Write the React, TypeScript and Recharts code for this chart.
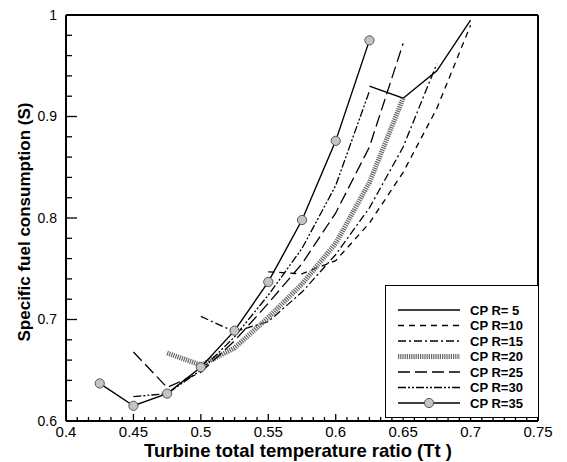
import React from "react";
import { LineChart, Line, XAxis, YAxis, ReferenceLine } from "recharts";

const xMajorTicks = [0.4, 0.45, 0.5, 0.55, 0.6, 0.65, 0.7, 0.75];
const xTickLabels = ["0.4", "0.45", "0.5", "0.55", "0.6", "0.65", "0.7", "0.75"];
const yMajorTicks = [0.6, 0.7, 0.8, 0.9, 1];
const yTickLabels = ["0.6", "0.7", "0.8", "0.9", "1"];

// [Tt, S]
const cpr5 = [
  [0.625, 0.93],
  [0.65, 0.918],
  [0.675, 0.945],
  [0.7, 0.995],
];
const cpr10 = [
  [0.55, 0.747],
  [0.575, 0.745],
  [0.6, 0.758],
  [0.625, 0.795],
  [0.65, 0.845],
  [0.675, 0.908],
  [0.7, 0.99],
];
const cpr15 = [
  [0.5, 0.703],
  [0.525, 0.688],
  [0.55, 0.698],
  [0.575, 0.727],
  [0.6, 0.764],
  [0.625, 0.81],
  [0.65, 0.87],
  [0.675, 0.952],
];
const cpr20 = [
  [0.475, 0.667],
  [0.5, 0.655],
  [0.525, 0.672],
  [0.55, 0.702],
  [0.575, 0.735],
  [0.6, 0.775],
  [0.625, 0.835],
  [0.65, 0.918],
];
const cpr25 = [
  [0.45, 0.668],
  [0.475, 0.633],
  [0.5, 0.648],
  [0.525, 0.679],
  [0.55, 0.716],
  [0.575, 0.755],
  [0.6, 0.805],
  [0.625, 0.87],
  [0.65, 0.972],
];
const cpr30 = [
  [0.45, 0.624],
  [0.475, 0.627],
  [0.5, 0.65],
  [0.525, 0.683],
  [0.55, 0.724],
  [0.575, 0.77],
  [0.6, 0.832],
  [0.625, 0.925],
];
const cpr35 = [
  [0.425, 0.637],
  [0.45, 0.615],
  [0.475, 0.627],
  [0.5, 0.653],
  [0.525, 0.689],
  [0.55, 0.737],
  [0.575, 0.798],
  [0.6, 0.876],
  [0.625, 0.975],
];

const seriesNames = ["CP R= 5", "CP R=10", "CP R=15", "CP R=20", "CP R=25", "CP R=30", "CP R=35"];

const toPoints = (pairs: number[][]) => pairs.map(([x, y]) => ({ x, y }));

// majors plus evenly spaced minor ticks between them
const withMinor = (majors: number[], parts: number) => {
  const out: number[] = [];
  for (let i = 0; i < majors.length - 1; i++) {
    for (let k = 0; k < parts; k++) {
      out.push(+(majors[i] + ((majors[i + 1] - majors[i]) * k) / parts).toFixed(6));
    }
  }
  out.push(majors[majors.length - 1]);
  return out;
};

const xTicks = withMinor(xMajorTicks, 6);
const yTicks = withMinor(yMajorTicks, 5);

const majorIndex = (list: number[], v: number) =>
  list.findIndex((m) => Math.abs(m - v) < 1e-6);

const XTick = (props: any) => {
  const { x, y, payload } = props;
  const idx = majorIndex(xMajorTicks, payload.value);
  const major = idx >= 0;
  return (
    <g>
      <line x1={x} x2={x} y1={y} y2={y - (major ? 7 : 4)} stroke="#000" strokeWidth={1.3} />
      {major && (
        <text x={x} y={y + 16} textAnchor="middle" fontSize={15} fill="#000">
          {xTickLabels[idx]}
        </text>
      )}
    </g>
  );
};

const YTick = (props: any) => {
  const { x, y, payload } = props;
  const idx = majorIndex(yMajorTicks, payload.value);
  const major = idx >= 0;
  return (
    <g>
      <line x1={x} x2={x + (major ? 11 : 6)} y1={y} y2={y} stroke="#000" strokeWidth={1.3} />
      {major && (
        <text x={x - 9} y={y} dy="0.35em" textAnchor="end" fontSize={14} fill="#000">
          {yTickLabels[idx]}
        </text>
      )}
    </g>
  );
};

const lineStyles = [
  { stroke: "#000", strokeWidth: 1.4, dash: undefined },
  { stroke: "#000", strokeWidth: 1.3, dash: "6 5" },
  { stroke: "#000", strokeWidth: 1.3, dash: "8 3 2 3" },
  { stroke: "#666", strokeWidth: 5, dash: "1.2 1" },
  { stroke: "#000", strokeWidth: 1.3, dash: "12 5" },
  { stroke: "#000", strokeWidth: 1.3, dash: "8 2 2 2 2 2" },
  { stroke: "#000", strokeWidth: 1.4, dash: undefined },
];

const seriesData = [cpr5, cpr10, cpr15, cpr20, cpr25, cpr30, cpr35];

const Marker = (props: any) => {
  const { cx, cy } = props;
  if (cx == null || cy == null) return null;
  return <circle cx={cx} cy={cy} r={4.6} fill="#c4c4c4" stroke="#555" strokeWidth={1} />;
};

const LegendBox = () => (
  <div
    style={{
      position: "absolute",
      left: 385,
      top: 285,
      width: 154,
      height: 133,
      boxSizing: "border-box",
      border: "1.5px solid #000",
      background: "#fff",
    }}
  >
    <svg width={151} height={130}>
      {seriesNames.map((name, i) => {
        const cy = 24 + i * 15.5;
        const s = lineStyles[i];
        return (
          <g key={name}>
            <line
              x1={12}
              x2={74}
              y1={cy}
              y2={cy}
              stroke={s.stroke}
              strokeWidth={s.strokeWidth}
              strokeDasharray={s.dash}
            />
            {i === 6 && <circle cx={43} cy={cy} r={4.6} fill="#c4c4c4" stroke="#555" strokeWidth={1} />}
            <text x={84} y={cy} dy="0.35em" fontSize={13} fontWeight="bold" fill="#000">
              {name}
            </text>
          </g>
        );
      })}
    </svg>
  </div>
);

const App = () => {
  return (
    <div
      style={{
        position: "absolute",
        left: 0,
        top: 0,
        width: 567,
        height: 462,
        background: "#fff",
        fontFamily: '"Liberation Sans", Arial, sans-serif',
      }}
    >
      <LineChart width={567} height={462} margin={{ top: 15, right: 29, left: 0, bottom: 0 }}>
        <XAxis
          dataKey="x"
          type="number"
          domain={[0.4, 0.75]}
          ticks={xTicks}
          interval={0}
          height={41}
          tickSize={0}
          tickMargin={0}
          tickLine={false}
          tick={<XTick />}
          axisLine={{ stroke: "#000", strokeWidth: 2 }}
          allowDataOverflow
        />
        <YAxis
          type="number"
          domain={[0.6, 1]}
          ticks={yTicks}
          interval={0}
          width={66}
          tickSize={0}
          tickMargin={0}
          tickLine={false}
          tick={<YTick />}
          axisLine={{ stroke: "#000", strokeWidth: 2 }}
          allowDataOverflow
        />
        <ReferenceLine y={1} stroke="#000" strokeWidth={2} />
        <ReferenceLine x={0.75} stroke="#000" strokeWidth={2} />
        {seriesData.map((d, i) => (
          <Line
            key={seriesNames[i]}
            data={toPoints(d)}
            dataKey="y"
            type="linear"
            stroke={lineStyles[i].stroke}
            strokeWidth={lineStyles[i].strokeWidth}
            strokeDasharray={lineStyles[i].dash}
            dot={i === 6 ? <Marker /> : false}
            activeDot={false}
            isAnimationActive={false}
          />
        ))}
      </LineChart>
      <div
        style={{
          position: "absolute",
          left: 298,
          top: 441,
          transform: "translateX(-50%)",
          whiteSpace: "nowrap",
          fontSize: 18.5,
          lineHeight: "20px",
          fontWeight: "bold",
        }}
      >
        Turbine total temperature ratio (Tt )
      </div>
      <div
        style={{
          position: "absolute",
          left: 25,
          top: 222,
          transform: "translate(-50%, -50%) rotate(-90deg)",
          whiteSpace: "nowrap",
          fontSize: 17,
          lineHeight: "20px",
          fontWeight: "bold",
        }}
      >
        Specific fuel consumption (S)
      </div>
      <LegendBox />
    </div>
  );
};

export default App;
